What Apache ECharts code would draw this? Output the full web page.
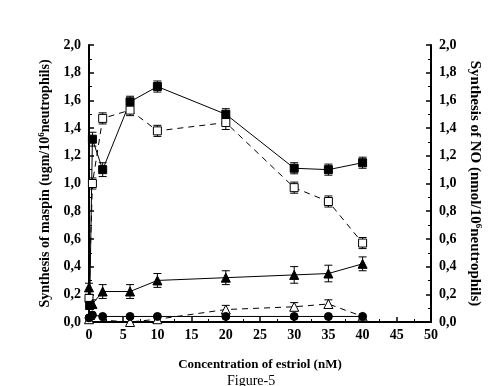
<!DOCTYPE html>
<html><head><meta charset="utf-8">
<script src="https://cdn.jsdelivr.net/npm/echarts@6/dist/echarts.min.js"></script>
<style>html,body{margin:0;padding:0;background:#fff}#c{width:500px;height:386px}</style>
</head><body><div id="c"></div>
<script>
// x: concentration of estriol (nM)
const sqFilledX = [0.1, 0.5, 2, 6, 10, 20, 30, 35, 40];
const sqFilledY = [0.12, 1.32, 1.10, 1.59, 1.70, 1.50, 1.11, 1.10, 1.15];
const sqFilledE = [0.03, 0.05, 0.05, 0.04, 0.04, 0.04, 0.04, 0.04, 0.04];

const sqOpenX = [0, 0.5, 2, 6, 10, 20, 30, 35, 40];
const sqOpenY = [0.17, 1.00, 1.47, 1.53, 1.38, 1.44, 0.97, 0.87, 0.57];
const sqOpenE = [0.03, 0.04, 0.04, 0.04, 0.04, 0.05, 0.04, 0.04, 0.04];

const triFilledX = [0, 0.5, 2, 6, 10, 20, 30, 35, 40];
const triFilledY = [0.25, 0.13, 0.22, 0.22, 0.30, 0.32, 0.34, 0.35, 0.42];
const triFilledE = [0.03, 0.03, 0.05, 0.05, 0.05, 0.05, 0.06, 0.06, 0.05];

const triOpenX = [0, 6, 10, 20, 30, 35, 40];
const triOpenY = [0.02, 0.00, 0.02, 0.09, 0.11, 0.13, 0.04];
const triOpenE = [0.00, 0.00, 0.00, 0.03, 0.03, 0.03, 0.00];

const circX = [0, 0.5, 2, 6, 10, 20, 30, 35, 40];
const circY = [0.03, 0.05, 0.04, 0.04, 0.04, 0.04, 0.04, 0.04, 0.04];

const xTicks = [0, 5, 10, 15, 20, 25, 30, 35, 40, 45, 50];
const yTicks = [0.0, 0.2, 0.4, 0.6, 0.8, 1.0, 1.2, 1.4, 1.6, 1.8, 2.0];

const FONT = '"Liberation Serif","DejaVu Serif",serif';
const zip = (xs, ys) => xs.map((x, i) => [x, ys[i]]);

function errSeries(xs, ys, es, yIdx) {
  return {
    type: 'custom', yAxisIndex: yIdx, z: 1, silent: true,
    data: xs.map((x, i) => [x, ys[i] - es[i], ys[i] + es[i]]).filter(d => d[2] - d[1] > 0),
    renderItem: function (params, api) {
      const lo = api.coord([api.value(0), api.value(1)]);
      const hi = api.coord([api.value(0), api.value(2)]);
      const w = 4;
      const st = { stroke: '#000', lineWidth: 1 };
      return { type: 'group', children: [
        { type: 'line', shape: { x1: lo[0], y1: lo[1], x2: hi[0], y2: hi[1] }, style: st },
        { type: 'line', shape: { x1: lo[0] - w, y1: lo[1], x2: lo[0] + w, y2: lo[1] }, style: st },
        { type: 'line', shape: { x1: hi[0] - w, y1: hi[1], x2: hi[0] + w, y2: hi[1] }, style: st }
      ]};
    }
  };
}

function lineSeries(xs, ys, symbol, filled, dashed, yIdx, size) {
  return {
    type: 'line', yAxisIndex: yIdx, z: 3,
    data: zip(xs, ys), symbol: symbol, symbolSize: size || 8,
    showAllSymbol: true,
    lineStyle: { color: '#000', width: 1, type: dashed ? [6, 5] : 'solid' },
    itemStyle: { color: filled ? '#000' : '#fff', borderColor: '#000', borderWidth: 1 },
    emphasis: { disabled: true }
  };
}

function yAxisBase(nameSize) {
  return {
    type: 'value', min: 0, max: 2, interval: 0.2,
    axisLine: { show: true, lineStyle: { color: '#000', width: 2 } },
    axisTick: { show: true, inside: true, length: 5, lineStyle: { color: '#000', width: 1.5 } },
    minorTick: { show: true, splitNumber: 2, length: 3, lineStyle: { color: '#000', width: 1 } },
    splitLine: { show: false },
    nameLocation: 'middle',
    nameTextStyle: { fontFamily: FONT, fontWeight: 'bold', fontSize: nameSize, color: '#000',
      rich: { sup: { fontFamily: FONT, fontWeight: 'bold', fontSize: 9, verticalAlign: 'top', padding: [0, 0, 7, 0] } } },
    axisLabel: { fontFamily: FONT, fontWeight: 'bold', fontSize: 14, color: '#000',
      formatter: v => v.toFixed(1).replace('.', ',') }
  };
}

const chart = echarts.init(document.getElementById('c'), null, { renderer: 'canvas' });
chart.setOption({
  animation: false,
  backgroundColor: '#fff',
  title: {
    text: 'Figure-5', left: 222, top: 369,
    textStyle: { fontFamily: FONT, fontWeight: 'normal', fontSize: 14, color: '#000' }
  },
  grid: { left: 89, right: 69, top: 45, bottom: 64 },
  xAxis: {
    type: 'value', min: 0, max: 50, interval: 5,
    name: 'Concentration of estriol (nM)', nameLocation: 'middle', nameGap: 36,
    nameTextStyle: { fontFamily: FONT, fontWeight: 'bold', fontSize: 13, color: '#000' },
    axisLine: { show: true, lineStyle: { color: '#000', width: 2 } },
    axisTick: { show: true, inside: true, length: 5, lineStyle: { color: '#000', width: 1.5 } },
    minorTick: { show: true, splitNumber: 2, length: 3, lineStyle: { color: '#000' } },
    splitLine: { show: false },
    axisLabel: { fontFamily: FONT, fontWeight: 'bold', fontSize: 14, color: '#000', margin: 6,
      formatter: v => xTicks.includes(v) ? String(v) : '' }
  },
  yAxis: [
    Object.assign(yAxisBase(14), {
      position: 'left', nameGap: 28, nameRotate: 90,
      name: 'Synthesis of maspin (ugm/10{sup|6}neutrophils)'
    }),
    Object.assign(yAxisBase(15), {
      position: 'right', nameGap: 25, nameRotate: -90,
      name: 'Synthesis of NO (nmol/10{sup|6}neutrophils)'
    })
  ],
  series: [
    errSeries(sqFilledX, sqFilledY, sqFilledE, 0),
    errSeries(sqOpenX, sqOpenY, sqOpenE, 0),
    errSeries(triFilledX, triFilledY, triFilledE, 1),
    errSeries(triOpenX, triOpenY, triOpenE, 1),
    lineSeries(sqOpenX, sqOpenY, 'rect', false, true, 0, 8),
    lineSeries(triOpenX, triOpenY, 'triangle', false, true, 1, 9),
    lineSeries(sqFilledX, sqFilledY, 'rect', true, false, 0, 8),
    lineSeries(triFilledX, triFilledY, 'triangle', true, false, 1, 9),
    lineSeries(circX, circY, 'circle', true, false, 1, 8)
  ]
});
</script></body></html>
